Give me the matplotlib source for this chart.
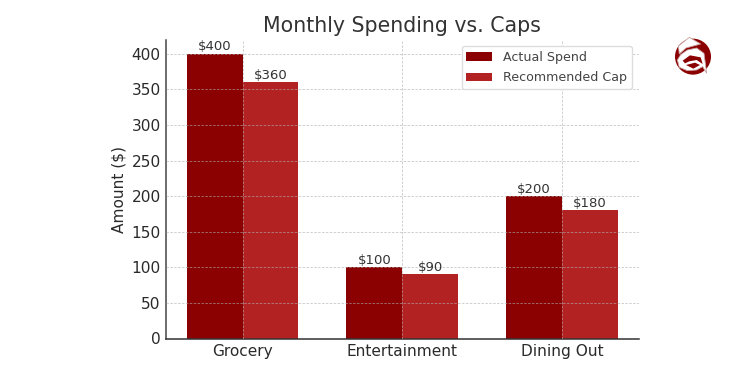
import numpy as np
import matplotlib
matplotlib.use("Agg")
import matplotlib.pyplot as plt
from matplotlib.patches import Circle, Polygon

categories = ["Grocery", "Entertainment", "Dining Out"]
actual = [400, 100, 200]
caps = [360, 90, 180]
y_ticks = [0, 50, 100, 150, 200, 250, 300, 350, 400]

DARK = "#8b0000"
RED = "#b22222"
TEXT = "#333333"

fig = plt.figure(figsize=(7.5, 3.75), dpi=100)
ax = fig.add_axes([165.5 / 750, 1 - 338.5 / 375, (639 - 165.5) / 750, (338.5 - 40) / 375])

x = np.arange(len(categories))
width = 0.35
b1 = ax.bar(x - width / 2, actual, width, color=DARK, label="Actual Spend", zorder=2)
b2 = ax.bar(x + width / 2, caps, width, color=RED, label="Recommended Cap", zorder=2)

# value labels
for bars in (b1, b2):
    for b in bars:
        ax.annotate("$%d" % b.get_height(), (b.get_x() + b.get_width() / 2, b.get_height()),
                    xytext=(0, 0.3), textcoords="offset points", ha="center", va="bottom",
                    fontsize=9.5, color=TEXT)

ax.set_xlim(-0.4825, 2.483)
ax.set_ylim(0, 419.5)
ax.set_xticks(x)
ax.set_xticklabels(categories, fontsize=11.1, color="#2a2a2a")
ax.set_yticks(y_ticks)
ax.tick_params(axis="y", labelsize=11.1, labelcolor="#2a2a2a", length=0, pad=3.5)
ax.tick_params(axis="x", length=0, pad=4)
ax.set_ylabel("Amount ($)", fontsize=11.1, color="#2a2a2a", labelpad=3.5)
ax.set_title("Monthly Spending vs. Caps", fontsize=14.8, color=TEXT, pad=6)

ax.grid(True, linestyle=(0, (2.5, 1.5)), linewidth=0.7, color="#b0b0b0", alpha=0.6, zorder=3)
ax.set_axisbelow(False)
ax.spines["top"].set_visible(False)
ax.spines["right"].set_visible(False)
ax.spines["left"].set_color("#444444")
ax.spines["left"].set_linewidth(1.1)
ax.spines["bottom"].set_color("#333333")
ax.spines["bottom"].set_linewidth(1.1)

leg = ax.legend(loc="upper left", fontsize=9.1, bbox_to_anchor=((461.5 - 165.5) / 473.5, 0.98), borderaxespad=0.0,
                labelcolor="#444444", framealpha=1.0, edgecolor="#dddddd", handlelength=2.05,
                handletextpad=0.85, borderpad=0.38, labelspacing=0.6)
leg.set_zorder(5)

# logo in the top right corner, drawn in the pixels of a 3x crop
logo = fig.add_axes([650 / 750, 1 - 90 / 375, 90 / 750, 70 / 375])
logo.set_xlim(0, 270)
logo.set_ylim(210, 0)
logo.axis("off")
logo.add_patch(Circle((129, 110), 54, color=DARK, lw=0))
logo.add_patch(Polygon([[85, 78], [118, 52], [152, 72], [108, 84], [88, 102]],
                       closed=True, fc="white", ec="#c9a0a0", lw=0.6))
logo.add_patch(Polygon([[92, 104], [112, 90], [140, 84], [162, 100], [170, 160], [158, 140], [140, 150],
                        [112, 152], [88, 142], [82, 120]],
                       closed=True, fc="white", ec="#c9a0a0", lw=0.6))
logo.add_patch(Polygon([[98, 122], [120, 106], [152, 112], [158, 132], [140, 120], [118, 124], [105, 130]],
                       closed=True, fc=DARK, lw=0))
logo.add_patch(Polygon([[108, 135], [135, 128], [150, 135], [130, 146]], closed=True, fc=DARK, lw=0))

fig.savefig("out.png", dpi=100)
